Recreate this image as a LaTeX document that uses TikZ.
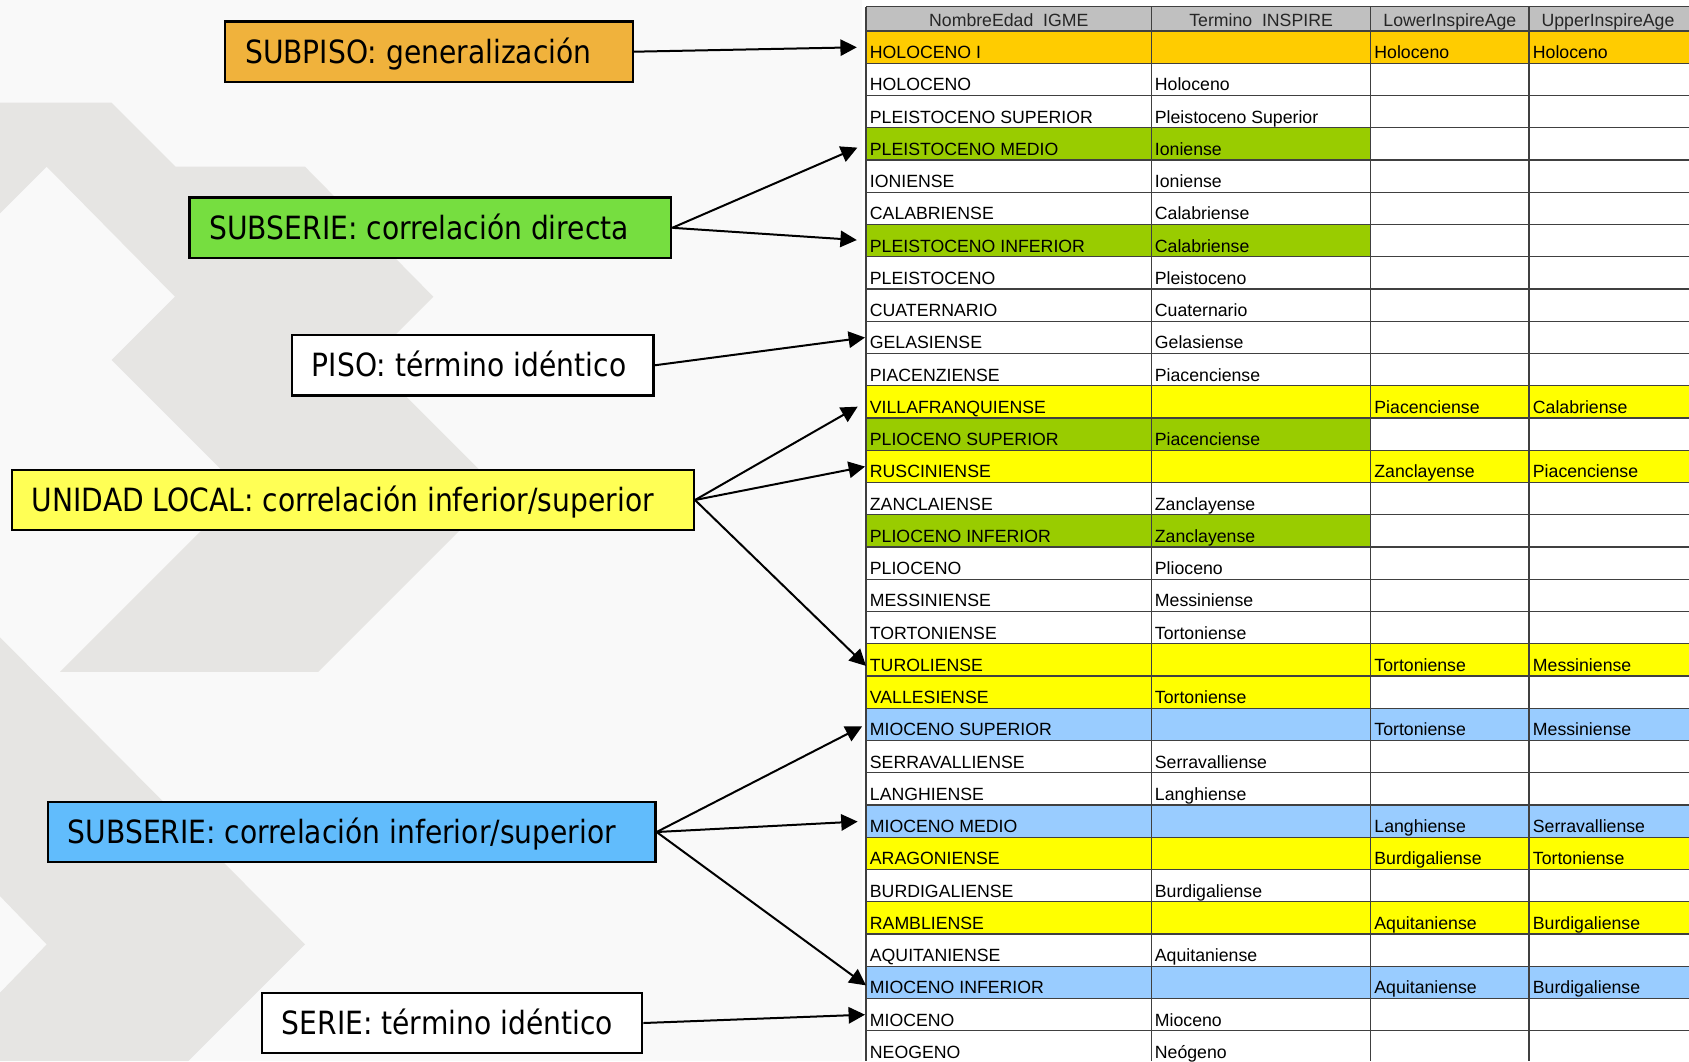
\documentclass[tikz,border=0pt]{standalone}
\usepackage{fontspec}
\setmainfont{Liberation Sans}
\newfontfamily\boxfont[FakeStretch=0.88]{DejaVu Sans}
\usetikzlibrary{arrows.meta}

\definecolor{bg}{RGB}{249,249,249}
\definecolor{chev}{RGB}{230,229,227}
\definecolor{cOrange}{RGB}{255,204,0}
\definecolor{cGreen}{RGB}{153,204,0}
\definecolor{cYellow}{RGB}{255,255,0}
\definecolor{cBlue}{RGB}{153,204,255}
\definecolor{cHead}{RGB}{192,192,192}
\definecolor{gridc}{RGB}{64,64,64}
\definecolor{bOrange}{RGB}{240,178,60}
\definecolor{bGreen}{RGB}{118,222,64}
\definecolor{bYellow}{RGB}{255,255,85}
\definecolor{bBlue}{RGB}{97,188,252}

\newcommand\tabtxtfont{\fontsize{8.85}{10}\selectfont}
\newcommand\lblfont{\boxfont\fontsize{16}{19}\selectfont}

% one text cell, skipped when empty
\newcommand\celltext[4]{%
  \if\relax\detokenize{#4}\relax\else
    \node[ttext] (#1) at (#2,#3) {#4};%
  \fi}

% one table row: index, four cell texts, fill of columns 1-2, fill of columns 3-4
\newcommand\trow[7]{%
  \pgfmathsetmacro\rowT{31+32.25*#1}%
  \pgfmathsetmacro\rowB{\rowT+32.25}%
  \pgfmathsetmacro\rowY{\rowT+27.5}%
  \fill[#6] (866,\rowT) rectangle (1370.7,\rowB);
  \fill[#7] (1370.7,\rowT) rectangle (1689,\rowB);
  \node[rowcell] (r#1) at (866,\rowT) {};
  \celltext{a#1}{869.5}{\rowY}{#2}%
  \celltext{b#1}{1154.5}{\rowY}{#3}%
  \celltext{c#1}{1374}{\rowY}{#4}%
  \celltext{d#1}{1532.5}{\rowY}{#5}%
}

\tikzset{
  ttext/.style={anchor=base west, inner sep=0pt, font=\tabtxtfont, text=black},
  htext/.style={anchor=base, inner sep=0pt, font=\tabtxtfont, text=black!85},
  rowcell/.style={rectangle, inner sep=0pt, outer sep=0pt, anchor=north west,
    minimum width=142.75pt, minimum height=16.125pt},
  gridline/.style={draw=gridc, line width=0.6pt},
  lbox/.style={draw=black, line width=1.15pt, anchor=west, inner xsep=10pt, inner ysep=0pt,
    minimum height=30.25pt, text height=14.66pt, text depth=3pt, font=\lblfont, text=black},
  arr/.style={draw=black, line width=1pt, -{Triangle[length=8.2pt,width=8.2pt]}},
}

\begin{document}
\begin{tikzpicture}[x=0.5pt, y=-0.5pt]
\useasboundingbox (0,0) rectangle (1689,1061);
\begin{scope}
\clip (0,0) rectangle (1689,1061);

% background and chevron bands
\fill[bg] (0,0) rectangle (1689,1061);
\fill[chev] (0,102.7) -- (111.7,102.7) -- (175.7,166.7) -- (305,166.7) -- (433.3,296.7)
  -- (369.8,360.2) -- (499.9,490.25) -- (318.3,671.8) -- (60,671.8) -- (241.7,490.1)
  -- (111.7,360) -- (175,296.7) -- (46.7,166.7) -- (0,213.3) -- cycle;
\fill[chev] (0,637.3) -- (305,944.4) -- (188.4,1061) -- (0,1061) -- (0,992.7)
  -- (46.7,944.4) -- (0,896.1) -- cycle;

% table
\fill[white] (861.7,0) rectangle (1689,1061);
\fill[cHead] (866,6.7) rectangle (1689,31);
\node[htext] (h1) at (1008.75,26.7) {NombreEdad\hspace{0.55em}IGME};
\node[htext] (h2) at (1261.1,26.7) {Termino\hspace{0.55em}INSPIRE};
\node[htext] (h3) at (1449.85,26.7) {LowerInspireAge};
\node[htext] (h4) at (1608,26.7) {UpperInspireAge};

\trow{0}{HOLOCENO I}{}{Holoceno}{Holoceno}{cOrange}{cOrange}
\trow{1}{HOLOCENO}{Holoceno}{}{}{white}{white}
\trow{2}{PLEISTOCENO SUPERIOR}{Pleistoceno Superior}{}{}{white}{white}
\trow{3}{PLEISTOCENO MEDIO}{Ioniense}{}{}{cGreen}{white}
\trow{4}{IONIENSE}{Ioniense}{}{}{white}{white}
\trow{5}{CALABRIENSE}{Calabriense}{}{}{white}{white}
\trow{6}{PLEISTOCENO INFERIOR}{Calabriense}{}{}{cGreen}{white}
\trow{7}{PLEISTOCENO}{Pleistoceno}{}{}{white}{white}
\trow{8}{CUATERNARIO}{Cuaternario}{}{}{white}{white}
\trow{9}{GELASIENSE}{Gelasiense}{}{}{white}{white}
\trow{10}{PIACENZIENSE}{Piacenciense}{}{}{white}{white}
\trow{11}{VILLAFRANQUIENSE}{}{Piacenciense}{Calabriense}{cYellow}{cYellow}
\trow{12}{PLIOCENO SUPERIOR}{Piacenciense}{}{}{cGreen}{white}
\trow{13}{RUSCINIENSE}{}{Zanclayense}{Piacenciense}{cYellow}{cYellow}
\trow{14}{ZANCLAIENSE}{Zanclayense}{}{}{white}{white}
\trow{15}{PLIOCENO INFERIOR}{Zanclayense}{}{}{cGreen}{white}
\trow{16}{PLIOCENO}{Plioceno}{}{}{white}{white}
\trow{17}{MESSINIENSE}{Messiniense}{}{}{white}{white}
\trow{18}{TORTONIENSE}{Tortoniense}{}{}{white}{white}
\trow{19}{TUROLIENSE}{}{Tortoniense}{Messiniense}{cYellow}{cYellow}
\trow{20}{VALLESIENSE}{Tortoniense}{}{}{cYellow}{white}
\trow{21}{MIOCENO SUPERIOR}{}{Tortoniense}{Messiniense}{cBlue}{cBlue}
\trow{22}{SERRAVALLIENSE}{Serravalliense}{}{}{white}{white}
\trow{23}{LANGHIENSE}{Langhiense}{}{}{white}{white}
\trow{24}{MIOCENO MEDIO}{}{Langhiense}{Serravalliense}{cBlue}{cBlue}
\trow{25}{ARAGONIENSE}{}{Burdigaliense}{Tortoniense}{cYellow}{cYellow}
\trow{26}{BURDIGALIENSE}{Burdigaliense}{}{}{white}{white}
\trow{27}{RAMBLIENSE}{}{Aquitaniense}{Burdigaliense}{cYellow}{cYellow}
\trow{28}{AQUITANIENSE}{Aquitaniense}{}{}{white}{white}
\trow{29}{MIOCENO INFERIOR}{}{Aquitaniense}{Burdigaliense}{cBlue}{cBlue}
\trow{30}{MIOCENO}{Mioceno}{}{}{white}{white}
\trow{31}{NEOGENO}{Neógeno}{}{}{white}{white}

% grid
\draw[gridline] (866,6.7) -- (1689,6.7);
\foreach \k in {0,...,32} \draw[gridline] (866,{31+32.25*\k}) -- (1689,{31+32.25*\k});
\foreach \x in {866,1151.5,1370.7,1529} \draw[gridline] (\x,6.7) -- (\x,1061);

% labels
\node[lbox, fill=bOrange] (subpiso) at (224,51.7) {\makebox[183.85pt][l]{SUBPISO: generalización}};
\node[lbox, fill=bGreen] (directa) at (188.3,227.8) {\makebox[220.85pt][l]{SUBSERIE: correlación directa}};
\node[lbox, fill=white] (piso) at (290.7,365.3) {\makebox[160.8pt][l]{PISO: término idéntico}};
\node[lbox, fill=bYellow] (unidad) at (10.7,500) {\makebox[321pt][l]{UNIDAD LOCAL: correlación inferior/superior}};
\node[lbox, fill=bBlue] (miocbox) at (46.7,832) {\makebox[283.8pt][l]{SUBSERIE: correlación inferior/superior}};
\node[lbox, fill=white] (serie) at (260.7,1023) {\makebox[170.15pt][l]{SERIE: término idéntico}};

% connectors
\draw[arr, shorten >=4.6pt] (subpiso.east) -- (r0.west);
\draw[arr, shorten >=4.7pt] (directa.east) -- (r3.west);
\draw[arr, shorten >=4.6pt] (directa.east) -- (r6.west);
\draw[arr, shorten >=0.5pt] (piso.east) -- (r9.west);
\draw[arr, shorten >=4.8pt] (unidad.east) -- (r11.west);
\draw[arr, shorten >=0.5pt] (unidad.east) -- (r13.west);
\draw[arr] (unidad.east) -- ([yshift=-3pt]r19.west);
\draw[arr, shorten >=2.2pt] (miocbox.east) -- (r21.west);
\draw[arr, shorten >=4.2pt] (miocbox.east) -- (r24.west);
\draw[arr] (miocbox.east) -- ([yshift=-1.5pt]r29.west);
\draw[arr, shorten >=0.5pt] (serie.east) -- (r30.west);
\end{scope}
\end{tikzpicture}
\end{document}
